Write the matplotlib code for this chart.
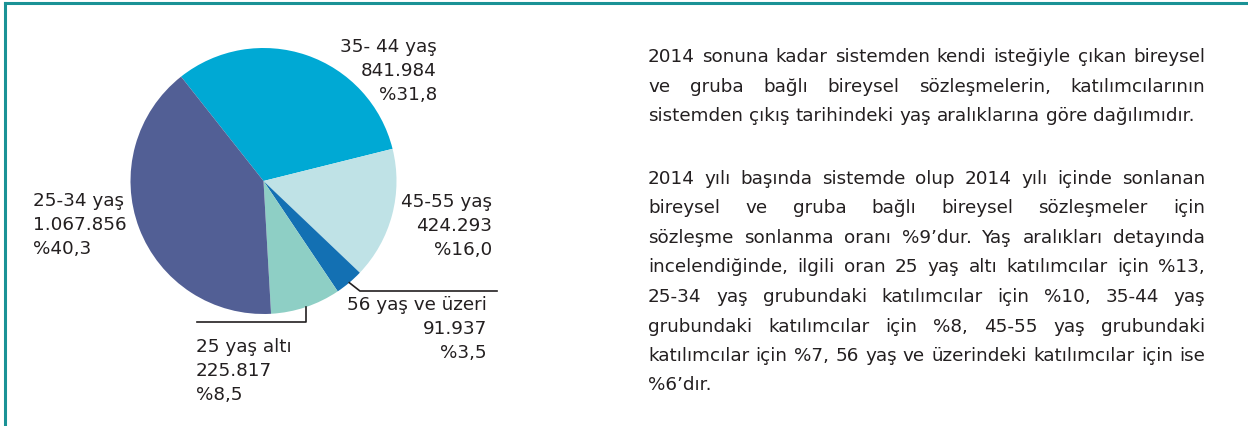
import matplotlib
matplotlib.use("Agg")
import matplotlib.pyplot as plt
import numpy as np
from matplotlib.lines import Line2D

W, H = 1248, 426

# data
groups = ["35- 44 yaş", "45-55 yaş", "56 yaş ve üzeri", "25 yaş altı", "25-34 yaş"]
counts = [841984, 424293, 91937, 225817, 1067856]
count_labels = ["841.984", "424.293", "91.937", "225.817", "1.067.856"]
pct_labels = ["%31,8", "%16,0", "%3,5", "%8,5", "%40,3"]
colors = ["#00a9d4", "#bfe2e6", "#1370b3", "#8ecfc5", "#525f95"]

para1 = [
    "2014 sonuna kadar sistemden kendi isteğiyle çıkan bireysel",
    "ve gruba bağlı bireysel sözleşmelerin, katılımcılarının",
    "sistemden çıkış tarihindeki yaş aralıklarına göre dağılımıdır.",
]
para2 = [
    "2014 yılı başında sistemde olup 2014 yılı içinde sonlanan",
    "bireysel ve gruba bağlı bireysel sözleşmeler için",
    "sözleşme sonlanma oranı %9’dur. Yaş aralıkları detayında",
    "incelendiğinde, ilgili oran 25 yaş altı katılımcılar için %13,",
    "25-34 yaş grubundaki katılımcılar için %10, 35-44 yaş",
    "grubundaki katılımcılar için %8, 45-55 yaş grubundaki",
    "katılımcılar için %7, 56 yaş ve üzerindeki katılımcılar için ise",
    "%6’dır.",
]

TXT = "#231f20"
TEAL = "#1a9296"


def fx(x):
    return x / W


def fy(y):
    return 1 - y / H


fig = plt.figure(figsize=(W / 100, H / 100), dpi=100)
fig.patch.set_facecolor("white")

# frame (top + left)
fig.add_artist(Line2D([fx(5), 1], [fy(3), fy(3)], color=TEAL, lw=2.2))
fig.add_artist(Line2D([fx(5), fx(5)], [fy(3), 0], color=TEAL, lw=2.2))

# pie
cx, cy, r = 263.5, 181, 133
ax = fig.add_axes([fx(cx - r), fy(cy + r), 2 * r / W, 2 * r / H])
start = 128.3
wedges, _ = ax.pie(counts, colors=colors, startangle=start, counterclock=False,
                   wedgeprops=dict(linewidth=0))
ax.set_xlim(-1, 1); ax.set_ylim(-1, 1); ax.axis("off")


# leader lines from wedge mid-angles
def mid(i):
    w = wedges[i]
    a = np.deg2rad((w.theta1 + w.theta2) / 2)
    return np.cos(a), np.sin(a)


px = lambda x: (x - cx) / r
py = lambda y: (cy - y) / r
x3, y3 = mid(3)
ax.plot([x3, x3, px(197)], [y3, py(322), py(322)], color=TXT, lw=1.2, clip_on=False)
x2, y2 = mid(2)
ax.plot([x2, x2 + 0.08, px(497)], [y2, py(291), py(291)], color=TXT, lw=1.2, clip_on=False)

# labels (anchor x, first baseline y, alignment)
lab_pos = [(437, 52, "right"), (492, 207, "right"), (487, 310, "right"),
           (196, 352, "left"), (33, 206, "left")]
for g, c, p, (lx, ly, ha) in zip(groups, count_labels, pct_labels, lab_pos):
    for k, s in enumerate([g, c, p]):
        fig.text(fx(lx), fy(ly + k * 24), s, ha=ha, va="baseline",
                 fontsize=13.2, color=TXT, family="DejaVu Sans")

# justified paragraph text
renderer = fig.canvas.get_renderer()
left, right = 648, 1205
fs = 13.2

probe = fig.text(0, 0, "a a", fontsize=fs, family="DejaVu Sans")
sp = probe.get_window_extent(renderer).width
probe.set_text("aa")
sp -= probe.get_window_extent(renderer).width
probe.remove()


def put_line(line, ybase, justify):
    words = line.split(" ")
    arts = [fig.text(0, fy(ybase), w_, ha="left", va="baseline", fontsize=fs,
                     color=TXT, family="DejaVu Sans") for w_ in words]
    widths = [a.get_window_extent(renderer).width for a in arts]
    gap = sp
    if justify and len(words) > 1:
        gap = max((right - left - sum(widths)) / (len(words) - 1), sp * 0.6)
    x = left
    for a, wd in zip(arts, widths):
        a.set_x(fx(x))
        x += wd + gap


for i, line in enumerate(para1):
    put_line(line, 62 + i * 29.5, i < len(para1) - 1)
for i, line in enumerate(para2):
    put_line(line, 184 + i * 29.5, i < len(para2) - 1)

fig.savefig("out.png", dpi=100)
